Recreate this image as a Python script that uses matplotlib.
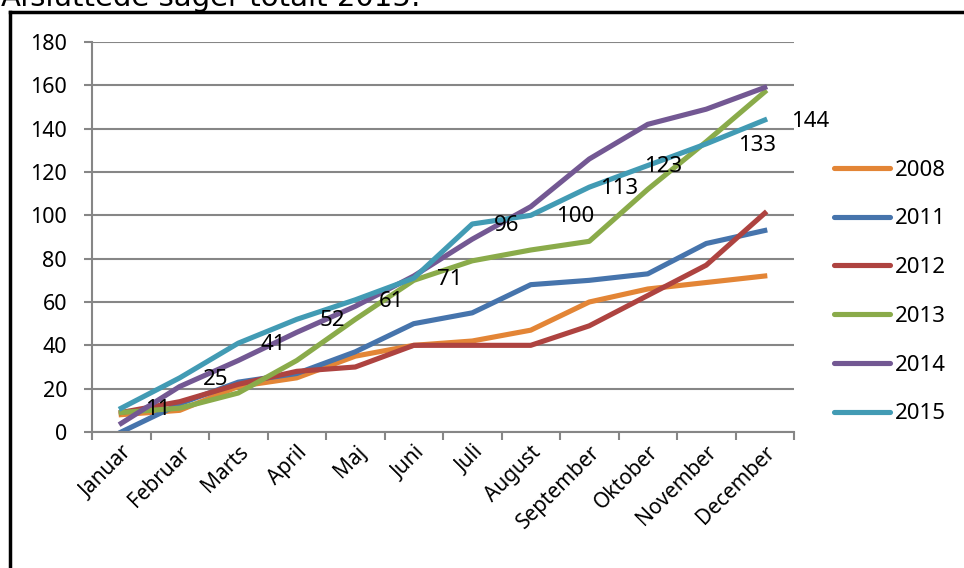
import matplotlib
matplotlib.use('Agg')
import matplotlib.pyplot as plt
from matplotlib.lines import Line2D

# Данные
months = ['Januar', 'Februar', 'Marts', 'April', 'Maj', 'Juni', 'Juli',
          'August', 'September', 'Oktober', 'November', 'December']
years = ['2008', '2011', '2012', '2013', '2014', '2015']

v2008 = [8, 10, 21, 25, 35, 40, 42, 47, 60, 66, 69, 72]
v2011 = [0, 13, 23, 27, 37, 50, 55, 68, 70, 73, 87, 93]
v2012 = [9, 14, 22, 28, 30, 40, 40, 40, 49, 63, 77, 101]
v2013 = [9, 11, 18, 33, 52, 70, 79, 84, 88, 112, 134, 157]
v2014 = [4, 21, 33, 46, 58, 72, 89, 104, 126, 142, 149, 159]
v2015 = [11, 25, 41, 52, 61, 71, 96, 100, 113, 123, 133, 144]

series = [v2008, v2011, v2012, v2013, v2014, v2015]
colors = ['#E38536', '#4674AC', '#AE4340', '#8AAB4A', '#735893', '#429BB4']

# сдвиг подписей 2015 вправо (в пикселях)
label_dx = [24, 23, 22, 23, 23, 23, 22, 25, 11, -4, 32, 26]

font = 'Noto Sans'
fs = 15.5

fig = plt.figure(figsize=(9.64, 5.68), dpi=100)
ax = fig.add_axes([92 / 964, 1 - 432 / 568, 702 / 964, 390 / 568])

x = list(range(len(months)))
for vals, col, yr in zip(series, colors, years):
    ax.plot(x, vals, color=col, lw=3.7, label=yr, solid_joinstyle='round')

for i, v in enumerate(v2015):
    ax.annotate(str(v), (x[i], v), xytext=(label_dx[i] * 0.72, -1),
                textcoords='offset points', ha='left', va='center',
                fontsize=fs + 0.5, family=font, color='black')

ax.set_xlim(-0.5, 11.5)
ax.set_ylim(0, 180)
ax.set_yticks(range(0, 181, 20))
ax.set_xticks([i - 0.5 for i in range(13)], minor=False)
ax.set_xticklabels([])
ax.set_xticks(x, minor=True)
ax.set_xticklabels(months, minor=True, rotation=45, ha='right',
                   rotation_mode='anchor', fontsize=fs - 0.5, family=font)
ax.tick_params(axis='x', which='minor', length=0, pad=7)
ax.tick_params(axis='x', which='major', length=6, width=1.5, color='#868686', direction='out')
ax.tick_params(axis='y', length=6, width=1.5, color='#868686', pad=12, labelsize=fs)
for t in ax.get_yticklabels():
    t.set_family(font)

ax.grid(axis='y', color='#868686', lw=1.5)
ax.set_axisbelow(True)
for s in ['top', 'right']:
    ax.spines[s].set_visible(False)
for s in ['left', 'bottom']:
    ax.spines[s].set_color('#868686')
    ax.spines[s].set_linewidth(1.5)

handles = [Line2D([0], [0], color=c, lw=3.7, solid_capstyle='round') for c in colors]
fig.legend(handles, years, loc='center left', bbox_to_anchor=(823 / 964, 1 - 292 / 568),
           frameon=False, borderpad=0, handlelength=2.5, handletextpad=0.25,
           labelspacing=1.25, prop={'family': font, 'size': fs + 0.5})

# рамка и заголовок
fig.add_artist(Line2D([10 / 964, 10 / 964], [0, 1 - 12 / 568], color='black', lw=2.5))
fig.add_artist(Line2D([10 / 964, 1], [1 - 12 / 568, 1 - 12 / 568], color='black', lw=2.5))
fig.text(1 / 964, 1 - 6 / 568, 'Afsluttede sager totalt 2015:', fontsize=21,
         family='DejaVu Sans', va='baseline', ha='left')

fig.savefig('out.png', dpi=100)
